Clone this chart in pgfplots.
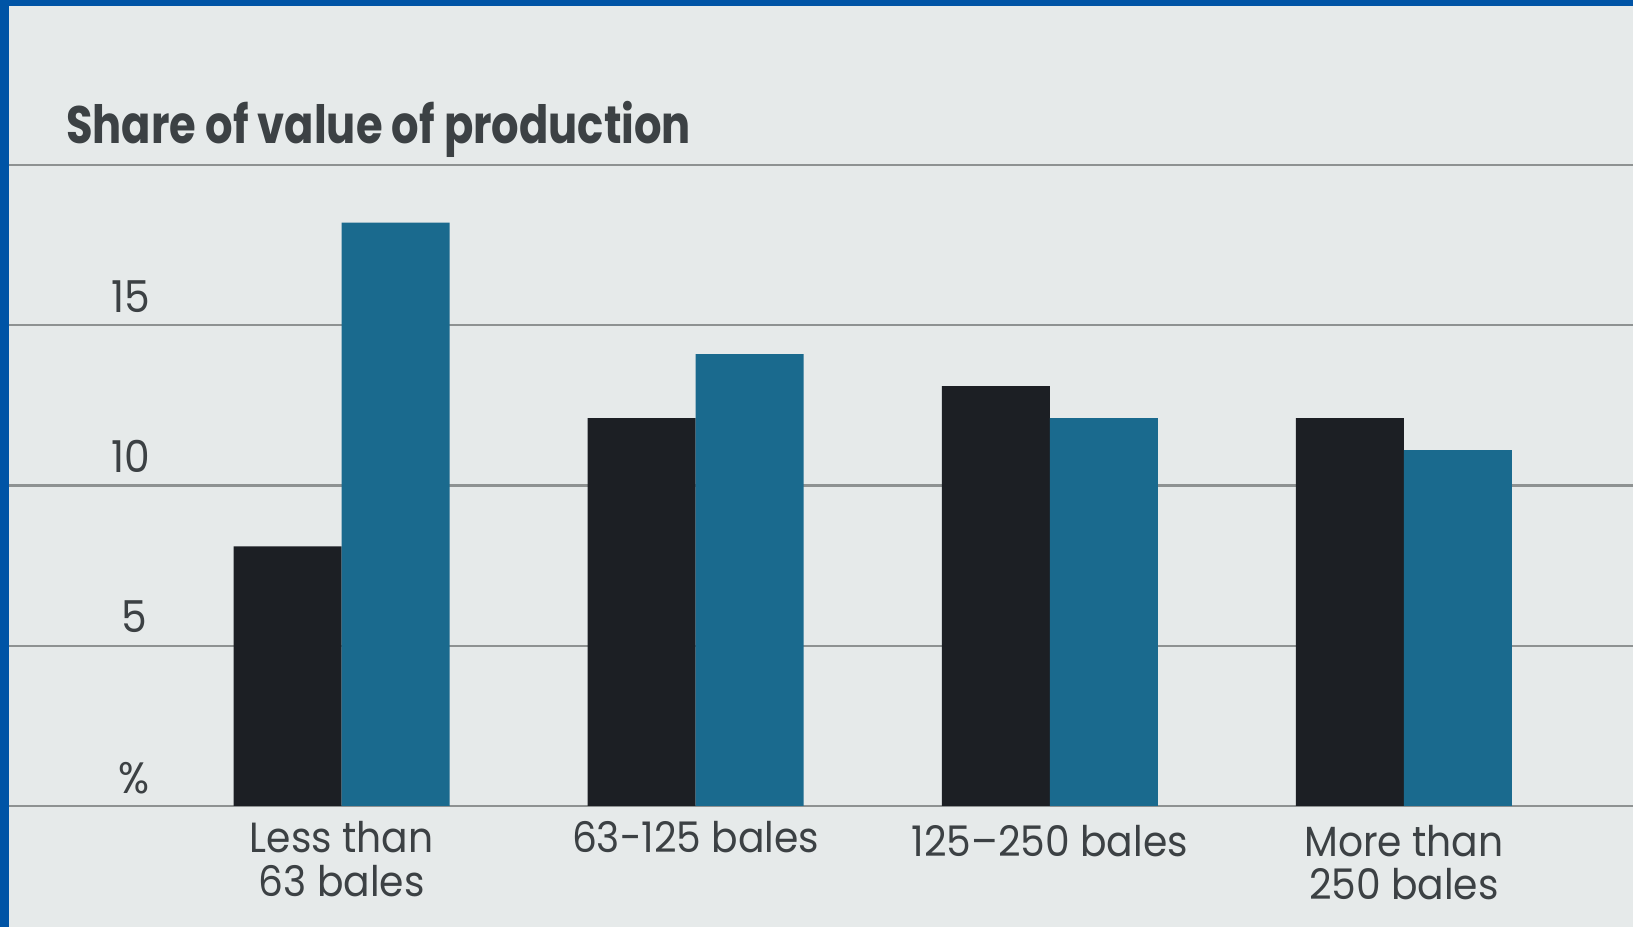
\documentclass[border=0pt]{standalone}
\usepackage{fontspec}
\setmainfont{Poppins}
\newfontfamily\titlefont[FakeStretch=0.82]{Poppins}
\newfontfamily\labfont[FakeStretch=0.93, Ligatures=TeX]{Poppins}
\usepackage{pgfplots}
\pgfplotsset{compat=1.18}
\definecolor{bgc}{HTML}{E6EAEA}
\definecolor{frame}{HTML}{0054A6}
\definecolor{darkbar}{HTML}{1C1F24}
\definecolor{bluebar}{HTML}{1A6A8E}
\definecolor{gridc}{HTML}{8E9292}
\definecolor{txt}{HTML}{3C4144}
\begin{document}
\begin{tikzpicture}
\begin{axis}[
  scale only axis,
  width=16.33cm, height=9.27cm,
  xmin=-0.9647, xmax=3.6470,
  ymin=-3.775, ymax=25.148,
  axis line style={draw=none},
  tick style={draw=none},
  axis background/.style={fill=bgc},
  ytick={0,5,10,15,20},
  ymajorgrids,
  grid style={gridc, line width=0.7pt},
  xtick=\empty, yticklabel=\empty,
  ybar, bar width=0.305,
  clip=false,
]
\addplot[fill=darkbar, draw=none, bar shift=-0.1525] coordinates {(0,8.1) (1,12.1) (2,13.1) (3,12.1)};
\addplot[fill=bluebar, draw=none, bar shift=0.1525] coordinates {(0,18.2) (1,14.1) (2,12.1) (3,11.1)};

% y labels
\node[anchor=base east, text=txt, font=\labfont\fontsize{12.5}{14}\selectfont] at (axis cs:-0.506,15.4) {15};
\node[anchor=base east, text=txt, font=\labfont\fontsize{12.5}{14}\selectfont] at (axis cs:-0.506,10.4) {10};
\node[anchor=base east, text=txt, font=\labfont\fontsize{12.5}{14}\selectfont] at (axis cs:-0.514,5.4) {5};
\node[anchor=base east, text=txt, font=\labfont\fontsize{12.5}{14}\selectfont] at (axis cs:-0.506,0.4) {\%};

% title
\node[anchor=base west, text=txt, font=\titlefont\fontsize{15}{18}\selectfont\bfseries] at (axis cs:-0.813,20.66) {Share of value of production};

% category labels
\node[anchor=north, align=center, text=txt, font=\labfont\fontsize{12}{12.5}\selectfont] at (axis cs:0,-0.09) {Less than\\63 bales};
\node[anchor=north, align=center, text=txt, font=\labfont\fontsize{12}{12.5}\selectfont] at (axis cs:1,-0.09) {63-125 bales};
\node[anchor=north, align=center, text=txt, font=\labfont\fontsize{12}{12.5}\selectfont] at (axis cs:2,-0.2) {125–250 bales};
\node[anchor=north, align=center, text=txt, font=\labfont\fontsize{12}{12.5}\selectfont] at (axis cs:3,-0.2) {More than\\250 bales};

% scan frame
\fill[frame] (rel axis cs:0,0) rectangle ([xshift=0.09cm]rel axis cs:0,1);
\fill[frame] ([yshift=-0.06cm]rel axis cs:0,1) rectangle (rel axis cs:1,1);
\coordinate (SW) at (rel axis cs:0,0);
\coordinate (NE) at (rel axis cs:1,1);
\end{axis}
\pgfresetboundingbox
\path (SW) rectangle (NE);
\end{tikzpicture}
\end{document}
